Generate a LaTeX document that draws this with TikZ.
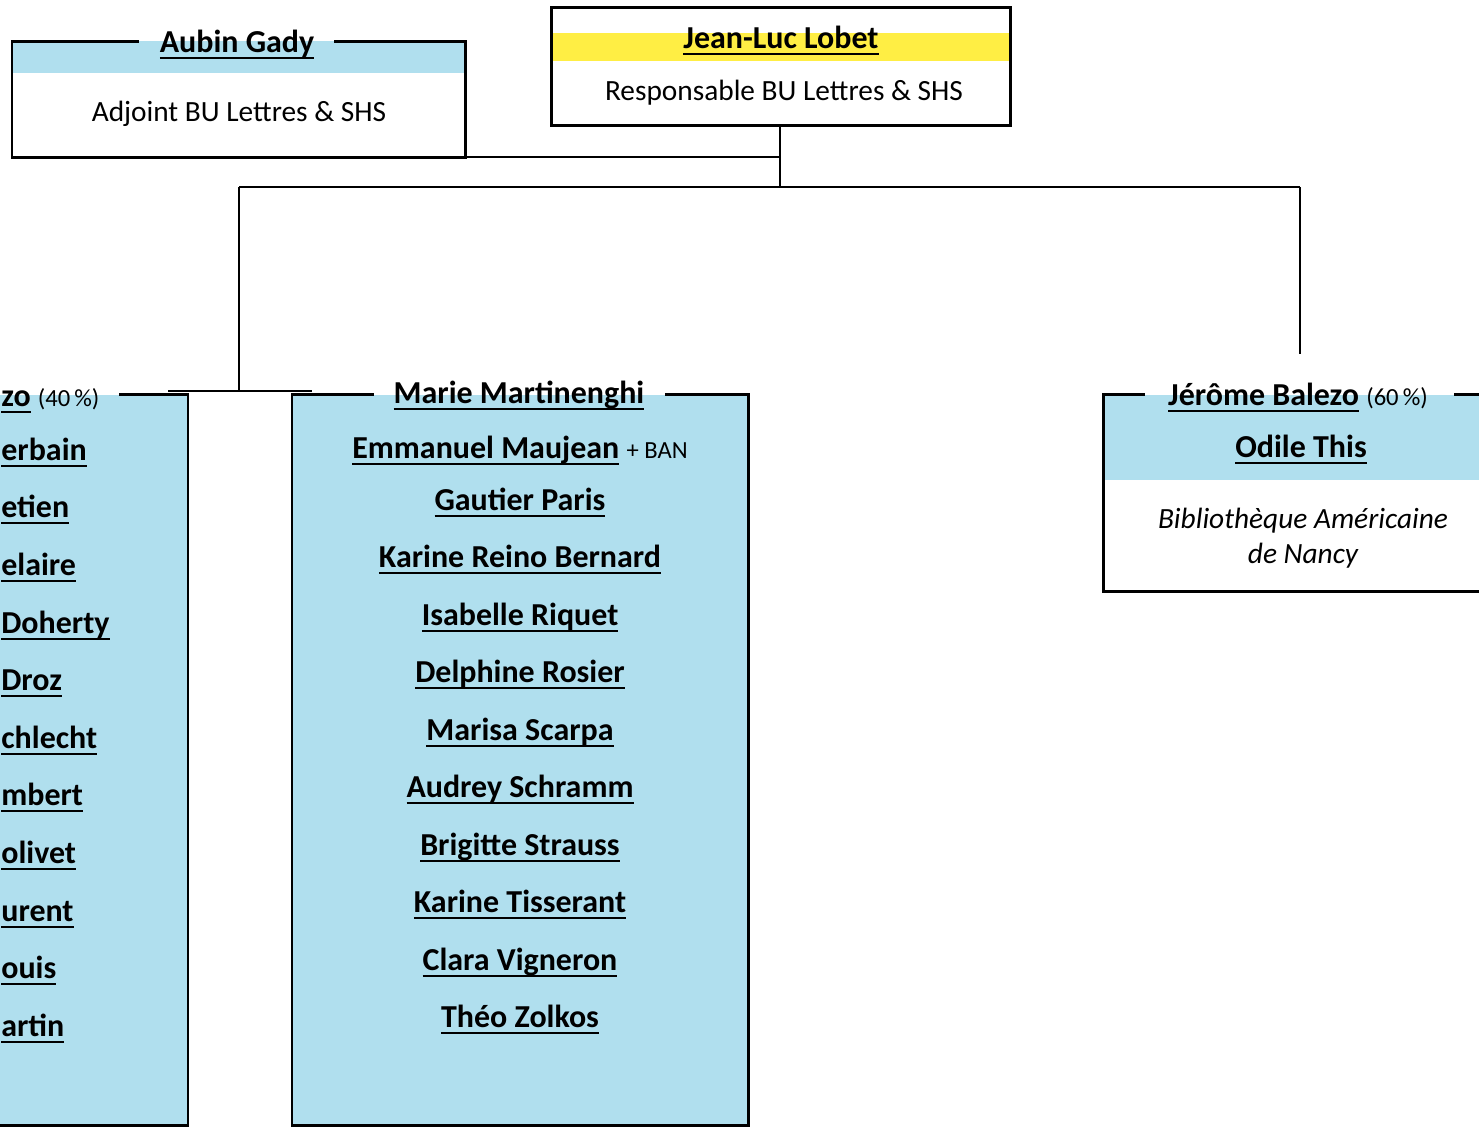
\documentclass[tikz,border=0pt]{standalone}
\usepackage{fontspec}
\setmainfont{Carlito}
\definecolor{bandblue}{HTML}{B0DFEE}
\definecolor{bandyellow}{HTML}{FFEE44}
\newcommand{\nom}[1]{\setbox0\hbox{\bfseries #1}\leavevmode\rlap{\rule[-3.8pt]{\wd0}{1.1pt}}\box0\relax}
\newcommand{\pct}[1]{{\fontsize{14}{16}\selectfont #1}}

\begin{document}
\begin{tikzpicture}[x=0.02cm, y=-0.02cm,
    boxline/.style = {line width=1.7pt, line cap=rect},
    link/.style = {line width=1.1pt},
    person/.style = {anchor=base, inner sep=0pt, font=\fontsize{18.2}{21}\selectfont},
    duty/.style = {anchor=base, inner sep=0pt, font=\fontsize{16.7}{20}\selectfont},
    cutname/.style = {anchor=base west, inner sep=0pt, font=\fontsize{18.2}{21}\selectfont}]

\useasboundingbox (0,0) rectangle (1479,1127);
\clip (0,0) rectangle (1479,1127);

\coordinate (lobetNW) at (551,7);
\coordinate (lobetSE) at (1010,125);
\coordinate (lobetS) at (780,125);
\coordinate (gadyNW) at (12,41);
\coordinate (gadySE) at (465,157);
\coordinate (hub) at (780,187);
\coordinate (hubL) at (239,187);
\coordinate (hubR) at (1300,187);
\coordinate (joinL) at (239,391);
\coordinate (joinR) at (1300,354);
\coordinate (barL) at (168,391);
\coordinate (barR) at (312,391);
\coordinate (aideNE) at (188,394);
\coordinate (equipeNW) at (292,394);
\coordinate (equipeSE) at (748,1125);
\coordinate (banNW) at (1103,394);
\coordinate (banSE) at (1490,591);

% Jean-Luc Lobet
\fill[bandyellow] (551,33) rectangle (1010,61);
\draw[boxline] (lobetNW) rectangle (lobetSE);
\node[person] (lobet) at (781,48) {\nom{Jean-Luc Lobet}};
\node[duty] (lobetRole) at (784,100) {Responsable BU Lettres \& SHS};

% Aubin Gady
\fill[bandblue] (gadyNW) rectangle (465,73);
\draw[boxline] (138,41) -- (gadyNW) |- (gadySE) -- (465,41) -- (335,41);
\node[person] (gady) at (237,52) {\nom{Aubin Gady}};
\node[duty] (gadyRole) at (239,121) {Adjoint BU Lettres \& SHS};

% connectors
\draw[link] (gadySE) -- (780,157);
\draw[link] (lobetS) -- (hub);
\draw[link] (hubL) -- (hubR);
\draw[link] (hubL) -- (joinL);
\draw[link] (hubR) -- (joinR);
\draw[link] (barL) -- (barR);

% left team
\fill[bandblue] (-10,395) rectangle (aideNE |- equipeSE);
\draw[boxline] (120,394) -- (aideNE) -- (aideNE |- equipeSE) -- (-10,1125);
\node[cutname] (aide0) at (1,406) {\nom{zo}~\pct{(40\,\%)}};
\node[cutname] (aide1) at (1,460) {\nom{erbain}};
\node[cutname] (aide2) at (1,517) {\nom{etien}};
\node[cutname] (aide3) at (1,575) {\nom{elaire}};
\node[cutname] (aide4) at (1,633) {\nom{Doherty}};
\node[cutname] (aide5) at (1,690) {\nom{Droz}};
\node[cutname] (aide6) at (1,748) {\nom{chlecht}};
\node[cutname] (aide7) at (1,805) {\nom{mbert}};
\node[cutname] (aide8) at (1,863) {\nom{olivet}};
\node[cutname] (aide9) at (1,921) {\nom{urent}};
\node[cutname] (aide10) at (1,978) {\nom{ouis}};
\node[cutname] (aide11) at (1,1036) {\nom{artin}};

% Marie Martinenghi
\fill[bandblue] (292,395) rectangle (equipeSE);
\draw[boxline] (372,394) -- (equipeNW) |- (equipeSE) -- (748,394) -- (666,394);
\node[person] (martinenghi) at (519,403) {\nom{Marie Martinenghi}};
\node[person] (maujean) at (520,458) {\nom{Emmanuel Maujean}~\pct{+ BAN}};
\foreach \who [count=\i] in {Gautier Paris, Karine Reino Bernard, Isabelle Riquet,
    Delphine Rosier, Marisa Scarpa, Audrey Schramm, Brigitte Strauss,
    Karine Tisserant, Clara Vigneron, Théo Zolkos}
  \node[person] (equipe\i) at (520,{452.5+57.5*\i}) {\nom{\who}};

% Jérôme Balezo
\fill[bandblue] (1103,395) rectangle (1490,480);
\draw[boxline] (1143,394) -- (banNW) |- (banSE);
\draw[boxline] (1455,394) -- (1490,394);
\node[person] (balezo) at (1298,405) {\nom{Jérôme Balezo}~\pct{(60\,\%)}};
\node[person] (this) at (1301,457) {\nom{Odile This}};
\node[duty, font=\fontsize{16.7}{20}\selectfont\itshape] (ban1) at (1303,528) {Bibliothèque Américaine};
\node[duty, font=\fontsize{16.7}{20}\selectfont\itshape] (ban2) at (1303,563) {de Nancy};
\end{tikzpicture}
\end{document}
